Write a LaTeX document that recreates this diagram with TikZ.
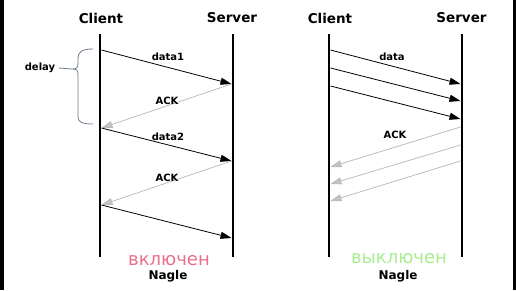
\documentclass[tikz,border=0pt]{standalone}
\usepackage{fontspec}
\setmainfont{DejaVu Sans}
\usetikzlibrary{arrows.meta}
\definecolor{pinkc}{HTML}{E8708A}
\definecolor{greenc}{HTML}{A8EE90}
\definecolor{brc}{HTML}{6E7C8C}
\definecolor{ackc}{HTML}{B8B8B8}
\begin{document}
\begin{tikzpicture}[x=1pt,y=-1pt,
  life/.style={line width=2.6pt,black},
  datarrow/.style={line width=0.8pt,black,-{Triangle[length=11pt,width=7pt]}},
  ackarrow/.style={line width=0.7pt,ackc,-{Triangle[length=11pt,width=7pt,fill=ackc!85!white]}},
  head/.style={font=\bfseries\fontsize{13.5}{15}\selectfont},
  lbl/.style={font=\bfseries\fontsize{10}{12}\selectfont},
  nagle/.style={font=\bfseries\fontsize{12}{14}\selectfont},
  status/.style={font=\fontsize{18}{20}\selectfont}]
\useasboundingbox (0,0) rectangle (516,290);
\fill[white] (0,0) rectangle (516,290);
\fill[black] (0,0) rectangle (4,290);
\fill[black] (513,0) rectangle (516,290);
% headings
\node[head] (lc) at (101,18) {Client};
\node[head] (ls) at (232,18) {Server};
\node[head] (rc) at (330,18) {Client};
\node[head] (rs) at (461.5,18) {Server};
% lifelines
\coordinate (lct) at (100,34); \coordinate (lcb) at (100,257);
\coordinate (lst) at (233,34); \coordinate (lsb) at (233,257);
\coordinate (rct) at (329,34); \coordinate (rcb) at (329,257);
\coordinate (rst) at (462,34); \coordinate (rsb) at (462,257);
\draw[life] (lct) -- (lcb);
\draw[life] (lst) -- (lsb);
\draw[life] (rct) -- (rcb);
\draw[life] (rst) -- (rsb);
% left events
\coordinate (a1) at (101.5,50);  \coordinate (b1) at (231.5,84);
\coordinate (a2) at (101.5,128); \coordinate (b2) at (231.5,161);
\coordinate (a3) at (101.5,205); \coordinate (b3) at (231.5,238);
\draw[datarrow] (a1) -- (b1);
\draw[ackarrow] (b1) -- (a2);
\draw[datarrow] (a2) -- (b2);
\draw[ackarrow] (b2) -- (a3);
\draw[datarrow] (a3) -- (b3);
\node[lbl] (d1) at (168,57) {data1};
\node[lbl] (k1) at (167,101) {ACK};
\node[lbl] (d2) at (168,137) {data2};
\node[lbl] (k2) at (167,178) {ACK};
% brace
\coordinate (bt) at (93,49);
\coordinate (bb) at (93,124);
\coordinate (btip) at (72,69);
\draw[brc,line width=0.8pt] (bt) .. controls (82,49) and (78,52) .. (78,58)
  -- (78,64) .. controls (78,68) and (76,69) .. (btip)
  .. controls (76,69) and (78,70) .. (78,74)
  -- (78,117) .. controls (78,122) and (82,124) .. (bb);
\node[font=\bfseries\fontsize{10}{12}\selectfont] (dl) at (40,68) {delay};
\draw[brc,line width=0.8pt] (dl.east) -- (btip);
% right events
\coordinate (p1) at (330.5,50);  \coordinate (q1) at (460.5,84);
\coordinate (p2) at (330.5,68);  \coordinate (q2) at (460.5,101);
\coordinate (p3) at (330.5,86);  \coordinate (q3) at (460.5,119);
\draw[datarrow] (p1) -- (q1);
\draw[datarrow] (p2) -- (q2);
\draw[datarrow] (p3) -- (q3);
\node[lbl] (d3) at (392,57) {data};
\coordinate (u1) at (460.5,127); \coordinate (v1) at (330.5,167);
\coordinate (u2) at (460.5,145); \coordinate (v2) at (330.5,184);
\coordinate (u3) at (460.5,161); \coordinate (v3) at (330.5,201);
\draw[ackarrow] (u1) -- (v1);
\draw[ackarrow] (u2) -- (v2);
\draw[ackarrow] (u3) -- (v3);
\node[lbl] (k3) at (395,135) {ACK};
% captions
\node[status,text=pinkc] (on) at (169,261) {включен};
\node[nagle] (n1) at (168,276) {Nagle};
\node[status,text=greenc] (off) at (399,259) {выключен};
\node[nagle] (n2) at (398,276) {Nagle};
\end{tikzpicture}
\end{document}
